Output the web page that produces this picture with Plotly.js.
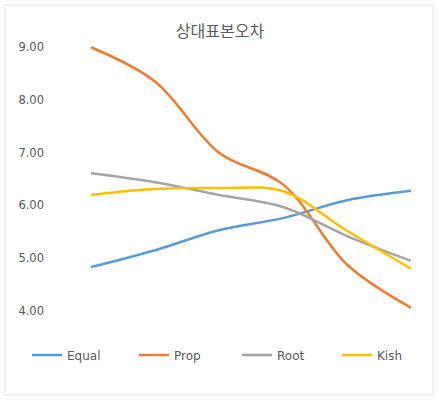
<!DOCTYPE html>
<html>
<head>
<meta charset="utf-8">
<script src="https://cdn.plot.ly/plotly-3.0.1.min.js"></script>
<style>html,body{margin:0;padding:0;background:#fff;}#chart{width:439px;height:401px;}</style>
</head>
<body>
<div id="chart"></div>
<script>
const categories = ["1", "2", "3", "4", "5", "6"];
const equalVals = [4.83, 5.15, 5.53, 5.76, 6.10, 6.28];
const propVals  = [9.00, 8.35, 7.00, 6.40, 4.88, 4.06];
const rootVals  = [6.61, 6.44, 6.20, 5.97, 5.42, 4.95];
const kishVals  = [6.20, 6.31, 6.33, 6.27, 5.52, 4.80];
const seriesNames = ["Equal", "Prop", "Root", "Kish"];
const yTicks = [4, 5, 6, 7, 8, 9];
const yTickText = ["4.00", "5.00", "6.00", "7.00", "8.00", "9.00"];
const colors = ["#5B9BD5", "#ED7D31", "#A5A5A5", "#FFC000"];

const allVals = [equalVals, propVals, rootVals, kishVals];
const legendIds = ["legend", "legend2", "legend3", "legend4"];
const traces = allVals.map((v, i) => ({
  x: categories.map((c, j) => j),
  y: v,
  name: seriesNames[i],
  legend: legendIds[i],
  type: "scatter",
  mode: "lines",
  line: {color: colors[i], width: 2.5, shape: "spline", smoothing: 1},
  hoverinfo: "skip"
}));

const L = 91, R = 28, T = 42, B = 69;
const pw = 439 - L - R, ph = 401 - T - B;

const layout = {
  width: 439, height: 401,
  margin: {l: L, r: R, t: T, b: B, pad: 0},
  paper_bgcolor: "#ffffff",
  plot_bgcolor: "#ffffff",
  font: {family: "DejaVu Sans, sans-serif", color: "#595959", size: 12},
  title: {
    text: "상대표본오차",
    font: {family: "Noto Sans CJK KR", size: 16, color: "#595959"},
    x: 220 / 439, xanchor: "center", xref: "container",
    y: 1 - 31 / 401, yanchor: "middle", yref: "container"
  },
  xaxis: {
    range: [0, categories.length - 1],
    showticklabels: false, showgrid: false, zeroline: false, showline: false, ticks: ""
  },
  yaxis: {
    range: [3.6, 9.1],
    tickvals: yTicks, ticktext: yTickText,
    showgrid: false, zeroline: false, showline: false, ticks: "",
    ticklabelstandoff: 46,
    tickfont: {family: "DejaVu Sans, sans-serif", size: 11.5, color: "#595959"}
  },
  showlegend: true,
  shapes: [{
    type: "rect", xref: "paper", yref: "paper",
    x0: (5 - L) / pw, x1: (433 - L) / pw,
    y0: (ph - (395 - T)) / ph, y1: (ph - (5 - T)) / ph,
    line: {color: "#e3e3e3", width: 1}, fillcolor: "rgba(0,0,0,0)", layer: "below"
  }]
};

const legendX = [27, 134, 237, 337];
legendIds.forEach((id, i) => {
  layout[id] = {
    orientation: "h",
    xref: "container", yref: "container",
    x: legendX[i] / 439, xanchor: "left",
    y: 1 - 355 / 401, yanchor: "middle",
    font: {family: "DejaVu Sans, sans-serif", size: 12, color: "#595959"},
    bgcolor: "rgba(0,0,0,0)"
  };
});

Plotly.newPlot("chart", traces, layout, {displayModeBar: false, staticPlot: true});
</script>
</body>
</html>
